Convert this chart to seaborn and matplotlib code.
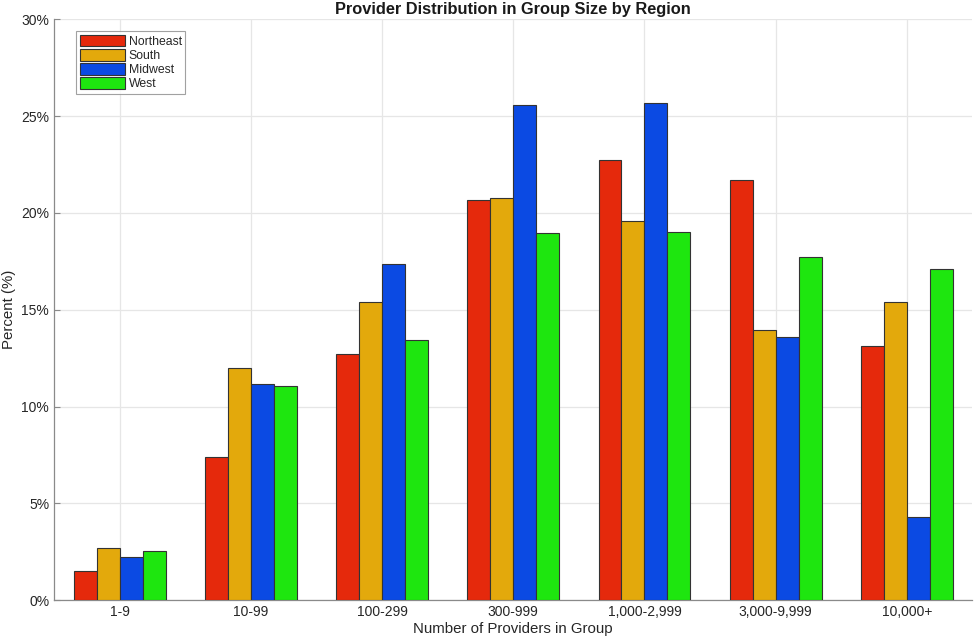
import matplotlib
matplotlib.use("Agg")
import matplotlib.pyplot as plt
import seaborn as sns
import pandas as pd
from matplotlib.ticker import FuncFormatter

# values (percent)
groups = ['1-9', '10-99', '100-299', '300-999', '1,000-2,999', '3,000-9,999', '10,000+']
regions = ['Northeast', 'South', 'Midwest', 'West']
northeast = [1.52, 7.38, 12.72, 20.67, 22.75, 21.71, 13.12]
south = [2.70, 12.02, 15.40, 20.79, 19.60, 13.98, 15.40]
midwest = [2.22, 11.18, 17.37, 25.56, 25.68, 13.58, 4.28]
west = [2.55, 11.07, 13.46, 18.96, 19.00, 17.75, 17.10]

colors = ['#E5290C', '#E3A90C', '#0B4AE3', '#1EE60F']

rows = []
for region, vals in zip(regions, [northeast, south, midwest, west]):
    for g, v in zip(groups, vals):
        rows.append({'group': g, 'region': region, 'pct': v})
df = pd.DataFrame(rows)

sns.set_style('white')
plt.rcParams['font.family'] = ['Liberation Sans', 'DejaVu Sans']

fig = plt.figure(figsize=(9.75, 6.41), dpi=100)
ax = fig.add_axes([0.0554, 0.0635, 0.942, 0.9064])

sns.barplot(data=df, x='group', y='pct', hue='region', order=groups,
            hue_order=regions, palette=colors, width=0.7, gap=0,
            edgecolor='#333333', linewidth=0.8, saturation=1, ax=ax, zorder=3)

ax.set_xlim(-0.5, 6.5)
ax.set_ylim(0, 30)
ax.set_yticks(range(0, 31, 5))
ax.yaxis.set_major_formatter(FuncFormatter(lambda v, p: f'{int(v)}%'))
ax.grid(True, color='#e6e6e6', linewidth=0.9, zorder=0)
ax.set_axisbelow(True)

for side in ['top', 'right']:
    ax.spines[side].set_visible(False)
for side in ['left', 'bottom']:
    ax.spines[side].set_color('#8a8a8a')
    ax.spines[side].set_linewidth(0.9)
ax.tick_params(axis='both', direction='in', length=4, color='#8a8a8a',
               labelsize=10, labelcolor='#262626', left=True, bottom=True)

ax.set_title('Provider Distribution in Group Size by Region', fontsize=11.8,
             fontweight='bold', color='#1a1a1a', pad=4)
ax.set_xlabel('Number of Providers in Group', fontsize=10.8, color='#262626', labelpad=2)
ax.set_ylabel('Percent (%)', fontsize=10.8, color='#262626', labelpad=4)

leg = ax.legend(loc='upper left', bbox_to_anchor=(0.024, 0.98), fontsize=8.8,
                frameon=True, fancybox=False, edgecolor='#8a8a8a',
                handlelength=3.7, handleheight=1.1, handletextpad=0.3,
                labelspacing=0.1, borderpad=0.3, borderaxespad=0)
leg.get_frame().set_linewidth(0.8)

fig.savefig('out.png', dpi=100)
